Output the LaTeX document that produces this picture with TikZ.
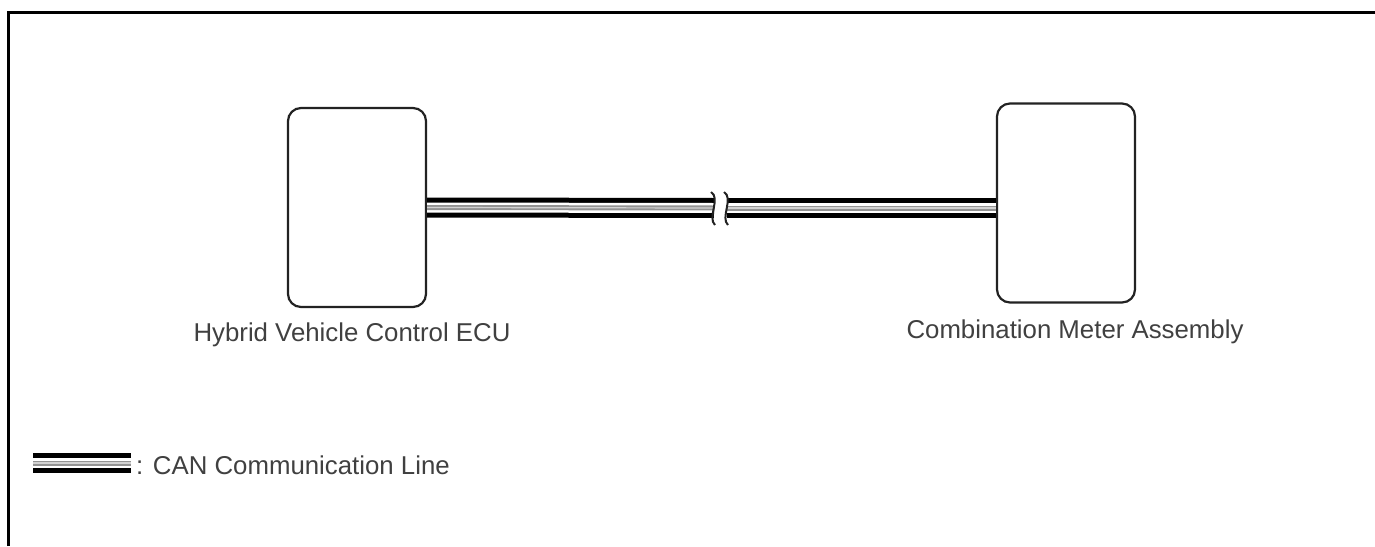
\documentclass[tikz,border=0pt]{standalone}
\usepackage{fontspec}
\setmainfont{Liberation Sans}
\definecolor{txt}{HTML}{404040}
\definecolor{edge}{HTML}{222222}
\begin{document}
\begin{tikzpicture}[x=1pt,y=-1pt,
  unit box/.style={draw=edge, line width=2.2pt, rounded corners=13pt, minimum width=138pt, minimum height=199pt, inner sep=0pt},
  lbl/.style={text=txt, font=\fontsize{25.8}{28}\selectfont, inner sep=0pt},
  cable/.style={draw=black, line width=20pt, postaction={draw=white, line width=10pt}, postaction={draw=gray!85, line width=5pt}, postaction={draw=white!65!gray, line width=1.2pt}},
  brk/.style={draw=edge, line width=2pt}
]
\useasboundingbox (0,0) rectangle (1375,546);
\draw[line width=3pt] (8,546) -- (8,12) -- (1375,12);

\node[unit box] (L) at (357,207.5) {};
\node[unit box] (R) at (1066,203) {};

\node[lbl, anchor=base] (Lt) at (352,341) {Hybrid Vehicle Control ECU};
\node[lbl, anchor=base] (Rt) at (1075,338) {Combination Meter Assembly};

\coordinate (b1) at (714,208);
\coordinate (b2) at (727,208);
\draw[cable] (L.east) -- (b1);
\draw[cable] (b2) -- (b2 -| R.west);
\draw[brk] (711,192) .. controls (721,198) and (707,218) .. (715,225);
\draw[brk] (724,192) .. controls (734,198) and (720,218) .. (728,225);

\coordinate (g1) at (33,463);
\coordinate (g2) at (131,463);
\draw[cable] (g1) -- (g2);
\node[lbl, anchor=base west] (Gt) at (136,474) {: CAN Communication Line};
\end{tikzpicture}
\end{document}
